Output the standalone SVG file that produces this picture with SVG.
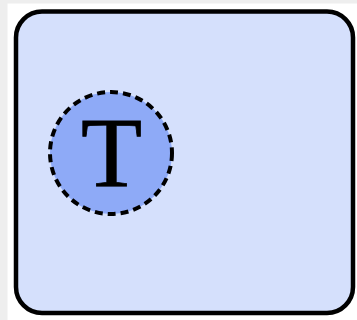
<svg xmlns="http://www.w3.org/2000/svg" width="357" height="320" viewBox="0 0 357 320">
<style>
.frame{fill:#d5e0fc;stroke:#000;stroke-width:4.5}
.tok{fill:#8eaaf7;stroke:#000;stroke-width:4;stroke-dasharray:8 5}
.lbl{font-family:"Liberation Serif",serif;font-size:100px;fill:#000;text-anchor:middle;stroke:#000;stroke-width:0.8}
</style>
<rect x="0" y="0" width="357" height="320" fill="#ffffff"/>
<rect x="0" y="0" width="357" height="3.5" fill="#eeeeee"/>
<rect x="0" y="0" width="7.5" height="320" fill="#eeeeee"/>
<g id="container">
<rect class="frame" x="16" y="11.5" width="337" height="301.5" rx="26" ry="26"/>
</g>
<g id="node-T">
<circle class="tok" cx="111" cy="153" r="61"/>
<text class="lbl" x="111.5" y="186">T</text>
</g>
<g id="connectors"></g>
</svg>
